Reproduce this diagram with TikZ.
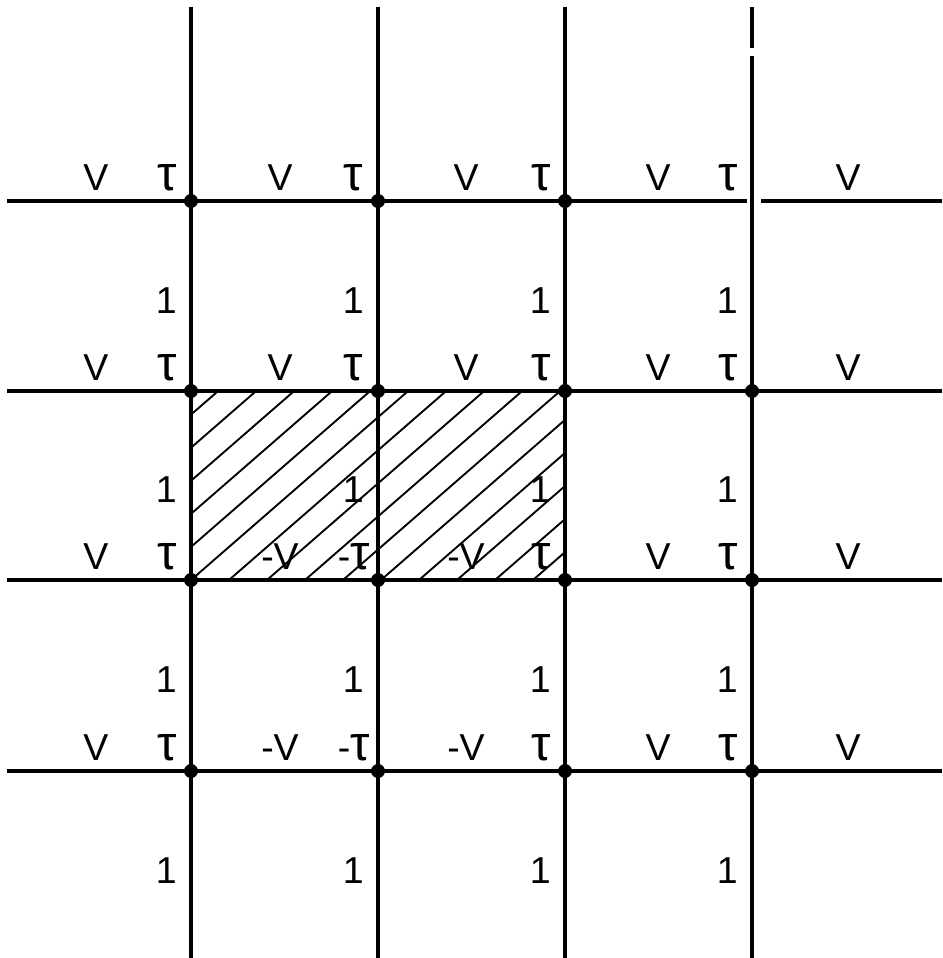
\documentclass[tikz,border=0pt]{standalone}
\usepackage{fontspec}
\setmainfont{Liberation Sans}
\newcommand{\tauglyph}{{\fontsize{42}{44}\selectfont τ}}
\begin{document}
\begin{tikzpicture}[x=0.03cm,y=-0.03cm,
  grid/.style={line width=3pt},
  hatch/.style={line width=1.6pt},
  dot/.style={circle,fill,inner sep=0pt,minimum size=0.42cm},
  lab/.style={font=\fontsize{32}{36}\selectfont,inner sep=0pt,anchor=base}]
\useasboundingbox (0,0) rectangle (942,958);
% hatching
\begin{scope}
  \clip (191,391) rectangle (565,580);
  \foreach \k in {-7,...,10} \draw[hatch] (191+38*\k,580) -- ++(270,-235);
\end{scope}
% line end points
\foreach \x [count=\c] in {191,378,565,752} {
  \coordinate (vt\c) at (\x,7);
  \coordinate (vb\c) at (\x,958);
}
\foreach \y [count=\r] in {201,391,580,771} {
  \coordinate (hl\r) at (7,\y);
  \coordinate (hr\r) at (942,\y);
}
\coordinate (g1) at (747,201);
\coordinate (g2) at (761,201);
\coordinate (g3) at (752,48);
\coordinate (g4) at (752,56);
% grid lines
\foreach \c in {1,2,3} \draw[grid] (vt\c) -- (vb\c);
\draw[grid] (vt4) -- (g3);
\draw[grid] (g4) -- (vb4);
\draw[grid] (hl1) -- (g1);
\draw[grid] (g2) -- (hr1);
\foreach \r in {2,3,4} \draw[grid] (hl\r) -- (hr\r);
% dots
\foreach \x [count=\c] in {191,378,565,752} {
  \foreach \y [count=\r] in {201,391,580,771} {
    \ifnum\c\r=41\else\node[dot] (d\c\r) at (\x,\y) {};\fi
  }
}
% row labels
\foreach \y/\r/\vb/\vc/\tb/\tx in {201/1/V/V//15, 391/2/V/V//15, 580/3/-V/-V/-/8, 771/4/-V/-V/-/8} {
  \node[lab] (va\r) at (96,\y-11) {V};
  \node[lab] (vb\r) at (280,\y-11) {\vb};
  \node[lab] (vc\r) at (466,\y-11) {\vc};
  \node[lab] (vd\r) at (658,\y-11) {V};
  \node[lab] (ve\r) at (848,\y-11) {V};
  \node[lab,anchor=base east] (ta\r) at (191-14,\y-11) {\tauglyph};
  \node[lab,anchor=base east] (tb\r) at (378-\tx,\y-11) {\tb\tauglyph};
  \node[lab,anchor=base east] (tc\r) at (565-14,\y-11) {\tauglyph};
  \node[lab,anchor=base east] (td\r) at (752-14,\y-11) {\tauglyph};
}
% ones
\foreach \x [count=\c] in {191,378,565,752} {
  \foreach \y [count=\r] in {313,502,692,883} {
    \node[lab,anchor=base east] (one\c\r) at (\x-14,\y) {1};
  }
}
\end{tikzpicture}
\end{document}
